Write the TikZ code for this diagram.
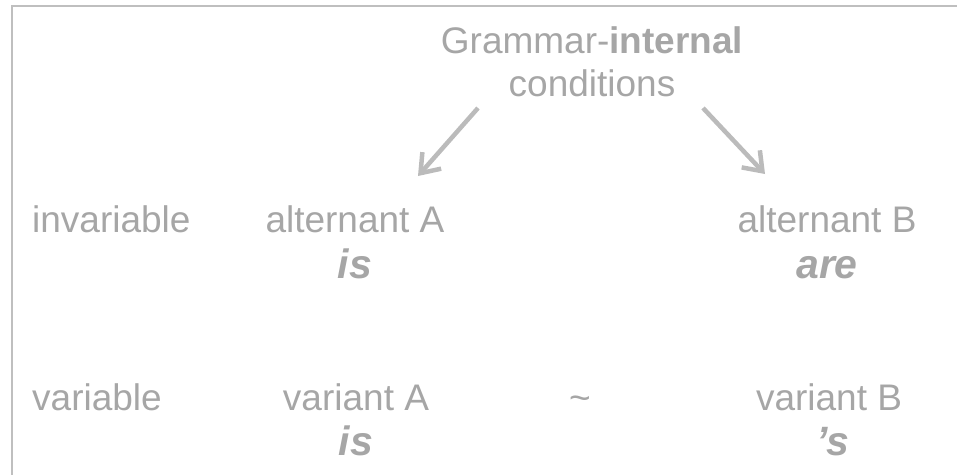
\documentclass[tikz,border=0pt]{standalone}
\usepackage{fontspec}
\setmainfont{Liberation Sans}
\usetikzlibrary{arrows.meta}
\definecolor{txtgray}{HTML}{A6A6A6}
\definecolor{framegray}{HTML}{BFBFBF}
\definecolor{arrowgray}{HTML}{BBBBBB}
\tikzset{
  label/.style={anchor=base, inner sep=0pt, text=txtgray,
    font=\fontsize{37}{44}\selectfont},
  form/.style={anchor=base, inner sep=0pt, text=txtgray,
    font=\fontsize{41}{46}\selectfont\bfseries\itshape},
  arrowline/.style={draw=arrowgray, line width=4.5pt,
    -{Straight Barb[length=17pt,width=25pt]}},
  frameline/.style={draw=framegray, line width=2pt}
}
\begin{document}
\begin{tikzpicture}[x=1pt, y=-1pt]
  \useasboundingbox (0,0) rectangle (957,474);
  % frame along the top and left edges
  \coordinate (fbl) at (12,480);
  \coordinate (ftl) at (12,6);
  \coordinate (ftr) at (960,6);
  \draw[frameline] (fbl) -- (ftl) -- (ftr);

  % heading
  \node[label] (gram) at (592,53) {Grammar-\textbf{internal}};
  \node[label] (cond) at (592,96) {conditions};

  % row labels
  \node[label, anchor=base west] (inv) at (32,232) {invariable};
  \node[label, anchor=base west] (var) at (32,410) {variable};

  % invariable row
  \node[label] (altA) at (355,232) {alternant A};
  \node[form]  (isA)  at (355,278) {is};
  \node[label] (altB) at (827,232) {alternant B};
  \node[form]  (are)  at (827,278) {are};

  % variable row
  \node[label] (varA) at (356,410) {variant A};
  \node[form]  (isV)  at (356,455) {is};
  \node[label] (tilde) at (580,410) {\textasciitilde};
  \node[label] (varB) at (829,410) {variant B};
  \node[form]  (sV)   at (833,455) {’s};

  % arrows from the heading
  \coordinate (lstart) at (478,108);
  \coordinate (lend)   at (418,176);
  \coordinate (rstart) at (703,108);
  \coordinate (rend)   at (765,174);
  \draw[arrowline] (lstart) -- (lend);
  \draw[arrowline] (rstart) -- (rend);
\end{tikzpicture}
\end{document}
